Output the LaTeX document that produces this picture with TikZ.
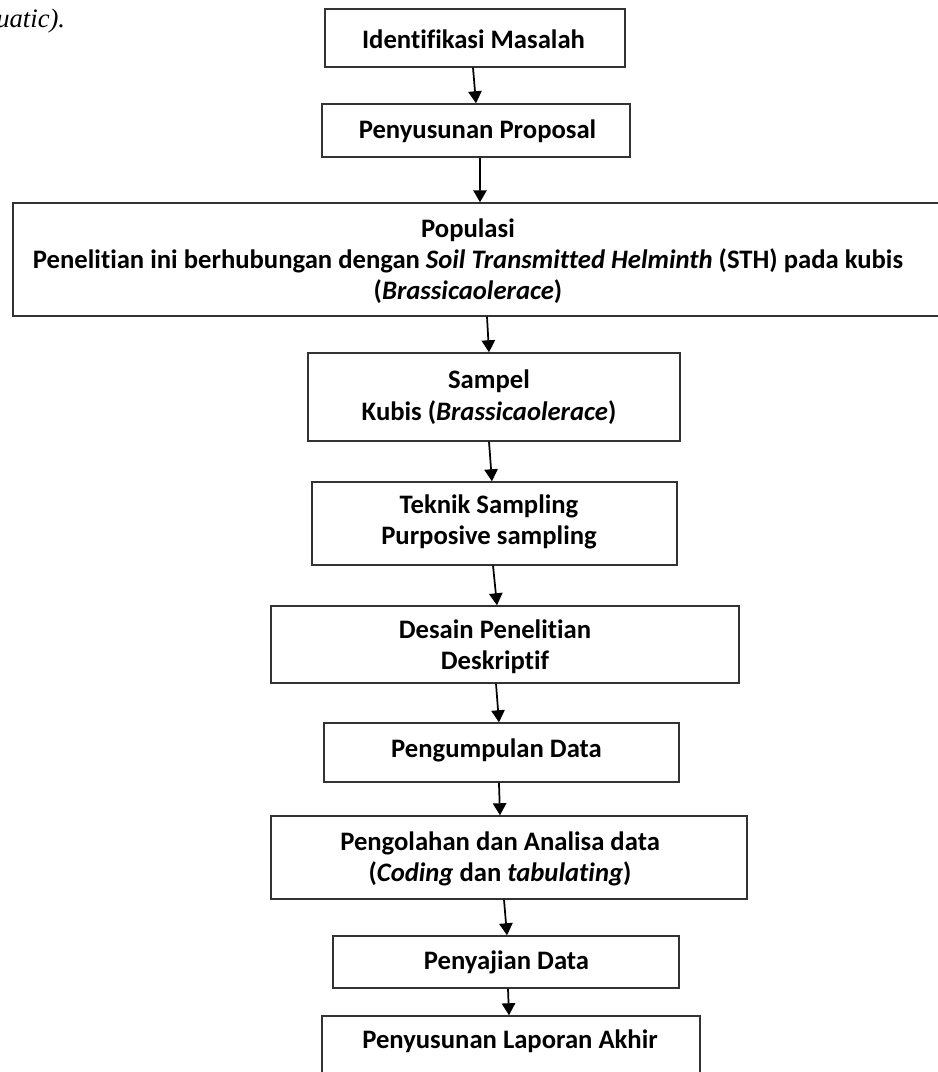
\documentclass[tikz,border=0pt]{standalone}
\usepackage{fontspec}
\setmainfont[Ligatures={NoCommon}]{Carlito}
\newfontfamily\serifit{Liberation Serif}
\usetikzlibrary{arrows.meta}
\definecolor{boxline}{HTML}{333333}
\begin{document}
\begin{tikzpicture}[x=0.75pt,y=-0.75pt,
  box/.style={draw=boxline,line width=1.1pt,inner sep=0pt},
  txt/.style={font=\fontsize{20}{23.5}\selectfont\bfseries,align=center,inner sep=0pt},
  arr/.style={line width=1.3pt,-{Triangle[width=10pt,length=9pt]}}]
\useasboundingbox (0,0) rectangle (938,1072);
\node[font=\serifit\itshape\fontsize{20}{22}\selectfont,anchor=base west,inner sep=0pt] (cap) at (-4,27) {uatic).};
% boxes
\node[box,minimum width=225pt,minimum height=43.5pt] (b1) at (475,38) {};
\node[box,minimum width=231pt,minimum height=39.75pt] (b2) at (476,130.5) {};
\node[box,minimum width=699pt,minimum height=84.75pt] (b3) at (479,259.5) {};
\node[box,minimum width=279pt,minimum height=66pt] (b4) at (494,397) {};
\node[box,minimum width=273.75pt,minimum height=62.25pt] (b5) at (494.5,523.5) {};
\node[box,minimum width=351pt,minimum height=57.75pt] (b6) at (505,644.5) {};
\node[box,minimum width=266.25pt,minimum height=44.25pt] (b7) at (501.5,752.5) {};
\node[box,minimum width=357pt,minimum height=62.25pt] (b8) at (509,857.5) {};
\node[box,minimum width=259.5pt,minimum height=39pt] (b9) at (506,962) {};
\node[box,minimum width=283.5pt,minimum height=55.5pt] (b10) at (511,1053) {};
% texts
\node[txt] (t1) at (473.5,39) {Identifikasi Masalah};
\node[txt] (t2) at (477.5,131) {Penyusunan Proposal};
\node[txt] (t3) at (468,261) {Populasi\\Penelitian ini berhubungan dengan \textit{Soil Transmitted Helminth} (STH) pada kubis\\(\textit{Brassicaolerace})};
\node[txt] (t4) at (489,397) {Sampel\\Kubis (\textit{Brassicaolerace})};
\node[txt] (t5) at (489,522) {Teknik Sampling\\Purposive sampling};
\node[txt] (t6) at (495,647) {Desain Penelitian\\Deskriptif};
\node[txt] (t7) at (496.5,750) {Pengumpulan Data};
\node[txt] (t8) at (500,859) {Pengolahan dan Analisa data\\(\textit{Coding} dan \textit{tabulating})};
\node[txt] (t9) at (506.5,962) {Penyajian Data};
\node[txt] (t10) at (510,1041) {Penyusunan Laporan Akhir};
% arrows
\draw[arr] ([xshift=-1.5pt]b1.south) -- (b2.north);
\draw[arr] ([xshift=3pt]b2.south) -- ([xshift=0.75pt]b3.north);
\draw[arr] ([xshift=6pt]b3.south) -- ([xshift=-3.75pt]b4.north);
\draw[arr] ([xshift=-3.75pt]b4.south) -- ([xshift=-1.9pt]b5.north);
\draw[arr] ([xshift=-1.1pt]b5.south) -- ([xshift=-6pt]b6.north);
\draw[arr] ([xshift=-6.75pt]b6.south) -- ([xshift=-1.9pt]b7.north);
\draw[arr] ([xshift=-1.9pt]b7.south) -- ([xshift=-6.75pt]b8.north);
\draw[arr] ([xshift=-3.75pt]b8.south) -- ([xshift=0.75pt]b9.north);
\draw[arr] ([xshift=1.5pt]b9.south) -- ([xshift=-1.5pt]b10.north);
\end{tikzpicture}
\end{document}
